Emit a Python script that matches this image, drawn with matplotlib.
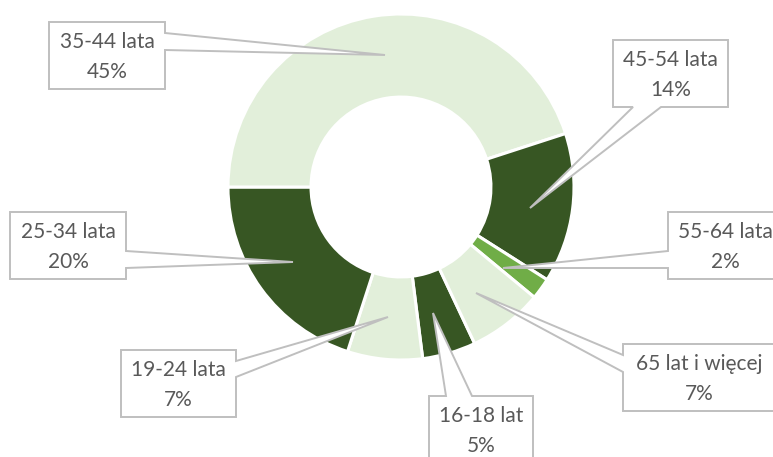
import matplotlib.pyplot as plt
from matplotlib.patches import Polygon

# -----------------------------
# Data
# -----------------------------
labels = ['16-18 lat', '19-24 lata', '25-34 lata', '35-44 lata',
          '45-54 lata', '55-64 lata', '65 lat i więcej']
shares = [5, 7, 20, 45, 14, 2, 7]   # %
colors = ['#375623', '#E2EFDA', '#375623', '#E2EFDA',
          '#375623', '#70AD47', '#E2EFDA']

W, H = 773, 457   # canvas in pixels

# -----------------------------
# Callout boxes (pixel coords, y down): box, side of pointer, pointer base, tip
# -----------------------------
callouts = {
    '16-18 lat':       ((429, 396, 533, 466), 'top',    (446, 472), (433, 313)),
    '19-24 lata':      ((121, 350, 236, 417), 'right',  (361, 377), (388, 317)),
    '25-34 lata':      ((10, 212, 126, 279),  'right',  (251, 268), (293, 262)),
    '35-44 lata':      ((49, 22, 165, 89),    'right',  (33, 50),   (385, 55)),
    '45-54 lata':      ((613, 40, 728, 107),  'bottom', (633, 661), (530, 208)),
    '55-64 lata':      ((668, 212, 783, 279), 'left',   (251, 268), (503, 268)),
    '65 lat i więcej': ((623, 344, 775, 411), 'left',   (355, 372), (476, 293)),
}


def callout_poly(box, side, base, tip):
    x0, y0, x1, y1 = box
    a, b = base
    if side == 'right':
        pts = [(x0, y0), (x1, y0), (x1, a), tip, (x1, b), (x1, y1), (x0, y1)]
    elif side == 'left':
        pts = [(x0, y0), (x1, y0), (x1, y1), (x0, y1), (x0, b), tip, (x0, a)]
    elif side == 'top':
        pts = [(x0, y0), (a, y0), tip, (b, y0), (x1, y0), (x1, y1), (x0, y1)]
    else:
        pts = [(x0, y0), (x1, y0), (x1, y1), (b, y1), tip, (a, y1), (x0, y1)]
    return [(px, H - py) for px, py in pts]


plt.rcParams['font.family'] = ['Lato', 'DejaVu Sans']

fig = plt.figure(figsize=(W / 100, H / 100), dpi=100)
ax = fig.add_axes([0, 0, 1, 1])
ax.set_xlim(0, W)
ax.set_ylim(0, H)
ax.set_aspect('equal')
ax.axis('off')

# -----------------------------
# Doughnut
# -----------------------------
cx, cy, R = 401, H - 187, 173
ax.pie(shares, colors=colors, center=(cx, cy), radius=R,
       startangle=90 - 154.8, counterclock=False,
       wedgeprops=dict(width=R * 0.48, edgecolor='white', linewidth=2.2))
ax.set_xlim(0, W)
ax.set_ylim(0, H)

# -----------------------------
# Labels
# -----------------------------
for lab, s in zip(labels, shares):
    box, side, base, tip = callouts[lab]
    poly = Polygon(callout_poly(box, side, base, tip), closed=True,
                   facecolor='white', edgecolor='#BFBFBF', linewidth=1.4,
                   zorder=5)
    ax.add_patch(poly)
    xm = (box[0] + box[2]) / 2
    ax.text(xm, H - (box[1] + 20), lab, ha='center', va='center',
            fontsize=15, color='#595959', zorder=6)
    ax.text(xm, H - (box[1] + 50), f'{s}%', ha='center', va='center',
            fontsize=15, color='#595959', zorder=6)

fig.savefig('out.png', dpi=100)
